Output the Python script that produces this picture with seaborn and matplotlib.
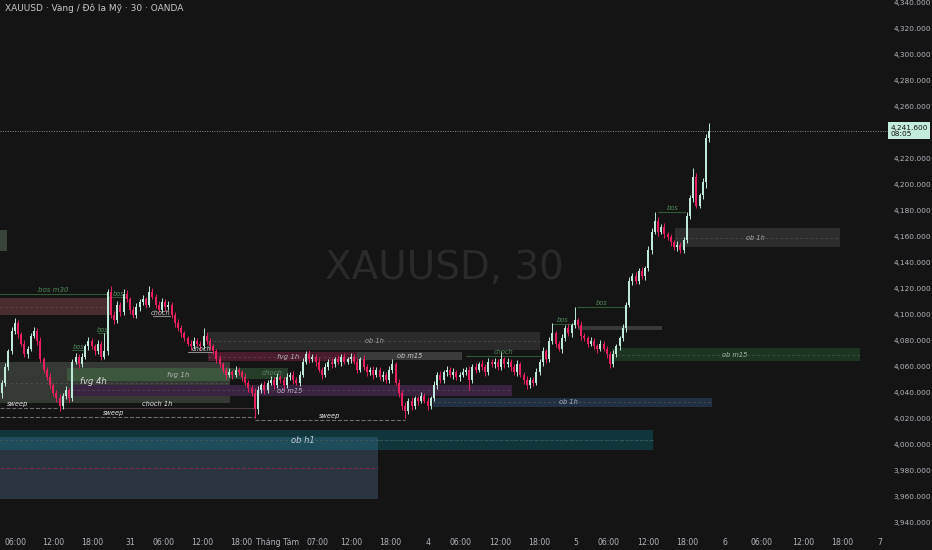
import numpy as np
import pandas as pd
import matplotlib
matplotlib.use("Agg")
import matplotlib.pyplot as plt
import matplotlib.transforms as mtransforms
import seaborn as sns

# XAUUSD 30m candles, closes (open = previous close)
first_open = 4040
closes = [
    4048, 4060, 4072, 4088, 4094, 4085, 4078, 4070, 4074, 4084,
    4088, 4080, 4066, 4058, 4052, 4046, 4040, 4036, 4030, 4038,
    4042, 4036, 4064, 4068, 4062, 4068, 4076, 4080, 4076, 4072,
    4078, 4068, 4072, 4118, 4100, 4096, 4108, 4102, 4116, 4112,
    4104, 4100, 4106, 4110, 4112, 4108, 4118, 4114, 4108, 4104,
    4110, 4106, 4108, 4100, 4094, 4090, 4086, 4082, 4078, 4076,
    4080, 4078, 4076, 4084, 4080, 4076, 4072, 4066, 4062, 4058,
    4054, 4056, 4054, 4058, 4056, 4052, 4048, 4044, 4040, 4028,
    4042, 4046, 4042, 4048, 4050, 4046, 4052, 4050, 4046, 4052,
    4054, 4050, 4048, 4054, 4064, 4070, 4066, 4068, 4064, 4058,
    4054, 4060, 4064, 4062, 4066, 4064, 4068, 4064, 4066, 4068,
    4064, 4058, 4066, 4060, 4056, 4058, 4054, 4058, 4052, 4054,
    4050, 4058, 4062, 4048, 4040, 4030, 4026, 4034, 4030, 4036,
    4034, 4038, 4034, 4030, 4036, 4046, 4054, 4050, 4056, 4058,
    4054, 4056, 4052, 4054, 4056, 4058, 4050, 4060, 4058, 4062,
    4060, 4056, 4064, 4062, 4064, 4060, 4066, 4062, 4064, 4060,
    4056, 4062, 4054, 4050, 4046, 4050, 4048, 4056, 4064, 4072,
    4066, 4080, 4086, 4078, 4074, 4082, 4090, 4086, 4092, 4096,
    4092, 4084, 4082, 4078, 4080, 4076, 4074, 4078, 4074, 4070,
    4062, 4070, 4076, 4082, 4090, 4108, 4126, 4130, 4126, 4134,
    4130, 4136, 4150, 4164, 4172, 4164, 4168, 4162, 4160, 4156,
    4152, 4154, 4150, 4158, 4176, 4190, 4206, 4184, 4192, 4202,
    4236, 4241.6,
]
up_wick = [
    2, 3, 2, 3, 4, 2, 2, 3, 2, 2,
    3, 2, 3, 2, 2, 3, 2, 2, 3, 2,
    3, 2, 2, 3, 2, 3, 2, 3, 2, 2,
    3, 2, 14, 2, 4, 3, 3, 2, 4, 3,
    2, 3, 3, 2, 3, 2, 4, 3, 2, 3,
    3, 2, 3, 2, 2, 3, 2, 2, 2, 3,
    3, 2, 2, 6, 3, 2, 2, 2, 3, 2,
    2, 3, 2, 3, 2, 2, 3, 2, 2, 4,
    3, 2, 3, 2, 3, 2, 3, 2, 2, 3,
    2, 3, 2, 3, 3, 2, 3, 2, 2, 3,
    2, 3, 2, 3, 2, 3, 2, 3, 2, 3,
    2, 3, 2, 3, 2, 2, 3, 2, 2, 3,
    2, 3, 4, 2, 3, 2, 3, 2, 3, 2,
    2, 3, 2, 3, 2, 3, 2, 3, 2, 3,
    2, 3, 2, 2, 3, 2, 3, 2, 3, 2,
    3, 2, 3, 2, 3, 2, 6, 2, 3, 2,
    2, 3, 2, 2, 3, 2, 2, 3, 2, 3,
    2, 3, 8, 2, 2, 3, 2, 3, 2, 10,
    2, 3, 2, 2, 3, 2, 2, 3, 2, 2,
    2, 3, 2, 2, 3, 2, 3, 2, 3, 2,
    3, 2, 3, 3, 7, 3, 2, 3, 2, 2,
    2, 3, 2, 2, 3, 2, 7, 3, 2, 3,
    3, 6,
]
down_wick = [
    4, 3, 2, 2, 3, 3, 2, 2, 3, 2,
    2, 3, 2, 3, 2, 3, 2, 3, 4, 2,
    3, 3, 2, 2, 3, 2, 2, 3, 2, 3,
    2, 3, 2, 3, 2, 3, 2, 3, 2, 2,
    3, 2, 2, 3, 2, 3, 2, 2, 3, 2,
    2, 3, 2, 2, 3, 2, 3, 2, 2, 3,
    2, 2, 3, 2, 2, 3, 2, 3, 2, 3,
    3, 2, 3, 2, 2, 3, 2, 3, 2, 7,
    4, 2, 3, 2, 2, 3, 2, 2, 3, 2,
    2, 3, 2, 3, 2, 2, 3, 2, 3, 2,
    3, 2, 2, 3, 2, 2, 3, 2, 2, 3,
    2, 3, 2, 2, 3, 2, 3, 2, 2, 3,
    2, 2, 3, 2, 3, 3, 5, 2, 3, 2,
    3, 2, 2, 3, 2, 2, 3, 2, 2, 3,
    2, 3, 2, 3, 2, 2, 8, 2, 3, 2,
    2, 3, 2, 2, 3, 2, 2, 3, 2, 3,
    2, 3, 2, 3, 3, 2, 3, 2, 2, 3,
    3, 2, 2, 3, 2, 3, 2, 2, 3, 2,
    2, 3, 2, 3, 2, 2, 3, 2, 2, 3,
    3, 2, 2, 3, 2, 3, 2, 3, 2, 2,
    2, 3, 2, 3, 2, 3, 2, 3, 2, 3,
    2, 3, 2, 2, 3, 2, 3, 2, 2, 3,
    4, 3,
]
last_price = 4241.6

# time axis (candle index of each label)
tick_idx = [4.1, 16.1, 28.1, 40, 50.6, 62.5, 74.7, 86, 98.75, 109, 121.3, 133.1,
            143.4, 155.6, 167.8, 179.4, 189.4, 201.8, 214.1, 226, 237.5, 250.3, 262.5, 274.4]
tick_labels = ["06:00", "12:00", "18:00", "31", "06:00", "12:00", "18:00", "Tháng Tám",
               "07:00", "12:00", "18:00", "4", "06:00", "12:00", "18:00", "5",
               "06:00", "12:00", "18:00", "6", "06:00", "12:00", "18:00", "7"]

# SMC zones: start idx, end idx, low, high, fill, dashed midline?
zones = [
    (-0.6, 1.6, 4149, 4165, "#38433a", False),
    (-0.6, 33.75, 4100, 4113, "#4a2d2f", True),
    (-0.6, 71.25, 4032.3, 4063.8, "#343a33", True),
    (20.3, 71.25, 4049.2, 4059.2, "#3d573f", False),
    (21.9, 159.4, 4037.7, 4046.2, "#392340", True),
    (64.4, 168.1, 4073.1, 4086.9, "#2b2b2b", True),
    (64.4, 110.9, 4064.6, 4071.5, "#4b1b2e", True),
    (110.9, 143.75, 4065.4, 4071.5, "#3b3b3b", False),
    (71.25, 89.4, 4050.8, 4059.2, "#253d29", False),
    (134.7, 221.9, 4029.2, 4036.2, "#223044", True),
    (190.6, 268.1, 4064.6, 4074.6, "#1c3520", True),
    (210.3, 261.9, 4152.3, 4166.9, "#2d2d2d", True),
    (180, 206.25, 4088.5, 4091.5, "#383838", False),
    (-0.6, 203.4, 3996.2, 4011.5, "#10363b", True),
    (-0.6, 117.5, 3958.5, 4006.2, "#2a3440", False),
    (-0.6, 117.5, 3996.2, 4006.2, "#1f4c5a", False),
]

# structure lines: start idx, end idx, price, style, colour
lines = [
    (-0.6, 33, 4116.2, "-", "#2d5a35"),
    (33, 38.5, 4113.8, "-", "#2d5a35"),
    (30, 33, 4086, "-", "#2d5a35"),
    (22, 26, 4073, "-", "#2d5a35"),
    (47.2, 52.5, 4099.2, "-", "#8a8a8a"),
    (58.1, 65.6, 4071.5, "-", "#8a8a8a"),
    (-0.6, 17.5, 4028.5, "--", "#6e6e6e"),
    (18, 79, 4028.5, "-", "#4a3a40"),
    (-0.6, 79.1, 4021.5, "--", "#6e6e6e"),
    (79.1, 126, 4019.2, "--", "#6e6e6e"),
    (145, 168.1, 4068.5, "-", "#2d5a35"),
    (172.2, 179, 4093.1, "-", "#2d5a35"),
    (179.7, 195.3, 4106.2, "-", "#2d5a35"),
    (205, 213.4, 4179.2, "-", "#2d5a35"),
    (-0.6, 117.5, 3982.3, "--", "#7a2a4a"),
    (117.5, 203.4, 4003.8, ":", "#2f6268"),
]

# labels: text, idx, price, colour, size
labels = [
    ("bos m30", 15.9, 4119.2, "#4f8a57", 5),
    ("bos", 36.3, 4116, "#4f8a57", 4.8),
    ("bos", 31.6, 4088.5, "#4f8a57", 4.8),
    ("bos", 24.1, 4075.4, "#4f8a57", 4.8),
    ("choch", 49.4, 4101.5, "#d0d0d0", 4.8),
    ("choch", 62.5, 4073.5, "#d0d0d0", 4.8),
    ("fvg 4h", 28.4, 4048.5, "#d8d8d8", 6),
    ("fvg 1h", 55, 4054.2, "#b4b4b4", 5),
    ("fvg 1h", 89.4, 4068, "#b4b4b4", 5),
    ("choch", 84.4, 4055, "#5e8a63", 5),
    ("ob m15", 90, 4041.5, "#c4b4cc", 4.8),
    ("ob 1h", 116.25, 4080, "#a0a0a0", 4.8),
    ("ob m15", 127.5, 4068.5, "#c8c8c8", 4.8),
    ("sweep", 5, 4031.5, "#e6e6e6", 4.8),
    ("choch 1h", 48.4, 4031.5, "#e6e6e6", 4.8),
    ("sweep", 35, 4024.5, "#e6e6e6", 4.8),
    ("sweep", 102.5, 4022.5, "#e6e6e6", 4.8),
    ("choch", 156.6, 4071.5, "#4f8a57", 4.8),
    ("ob 1h", 176.9, 4032.7, "#a8b0bc", 4.8),
    ("bos", 175.3, 4096, "#4f8a57", 4.8),
    ("bos", 187.5, 4109, "#4f8a57", 4.8),
    ("ob m15", 229, 4069.6, "#a8b8a8", 4.8),
    ("ob 1h", 235.6, 4159.6, "#a8a8a8", 4.8),
    ("bos", 209.7, 4182, "#4f8a57", 4.8),
    ("ob h1", 94, 4003.8, "#c0d0d4", 6),
]

bg = "#141414"
up_col = "#bfeadb"
down_col = "#e8205e"
text_col = "#b2b5be"

sns.set_theme(style="dark", rc={"axes.facecolor": bg, "figure.facecolor": bg,
                                "axes.edgecolor": bg, "grid.color": bg})
plt.rcParams["font.family"] = ["DejaVu Sans"]

df = pd.DataFrame({"close": closes, "up": up_wick, "dn": down_wick})
df["idx"] = np.arange(len(df))
df["open"] = df["close"].shift(1).fillna(first_open)
df["top"] = df[["open", "close"]].max(axis=1)
df["bot"] = df[["open", "close"]].min(axis=1)
df["high"] = df["top"] + df["up"]
df["low"] = df["bot"] - df["dn"]
df["rising"] = df["close"] >= df["open"]
colors = np.where(df["rising"], up_col, down_col)

fig = plt.figure(figsize=(9.32, 5.5), dpi=100)
ax = fig.add_axes([0, 20 / 550, 888 / 932, 530 / 550])

# zones
for x0, x1, lo, hi, col, mid in zones:
    ax.fill_between([x0, x1], lo, hi, color=col, linewidth=0, zorder=1)
    if mid:
        ax.plot([x0, x1], [(lo + hi) / 2] * 2, ls=(0, (3, 3)), color="#5c5c5c",
                lw=0.6, alpha=0.7, zorder=1.5)

for x0, x1, y, ls, col in lines:
    ax.plot([x0, x1], [y, y], ls=ls, color=col, lw=0.8, zorder=2)

# candles
ax.vlines(df["idx"], df["low"], df["high"], colors=colors, lw=0.7, zorder=3)
heights = np.maximum(df["top"] - df["bot"], 0.7)
ax.bar(df["idx"], heights, bottom=df["bot"], width=0.62, color=colors,
       linewidth=0, zorder=3.5)

for txt, x, y, col, size in labels:
    ax.text(x, y, txt, color=col, fontsize=size, style="italic",
            ha="center", va="center", zorder=5)

# last price line
ax.axhline(last_price, color="#8a8a8a", ls=(0, (1, 1.5)), lw=0.7, zorder=2)

# watermark
ax.text(0.501, 0.494, "XAUUSD, 30", transform=ax.transAxes, fontsize=28,
        color="#2a2a2a", ha="center", va="center", zorder=0.5)

ax.set_xlim(-0.625, 276.9)
ax.set_ylim(3934.6, 4342.3)

ax.set_xticks(tick_idx)
ax.set_xticklabels(tick_labels)
yt = [v for v in range(3940, 4341, 20) if v != 4240]
ax.set_yticks(yt)
ax.set_yticklabels([f"{v:,.3f}" for v in yt])
ax.yaxis.tick_right()
ax.tick_params(axis="x", length=0, pad=6, labelsize=5.6, labelcolor=text_col)
ax.tick_params(axis="y", length=0, pad=4, labelsize=5.3, labelcolor=text_col)
ax.grid(False)
for s in ax.spines.values():
    s.set_visible(False)

trans = mtransforms.blended_transform_factory(ax.transAxes, ax.transData)
ax.text(1.003, last_price, "4,241.600\n08:05", transform=trans, fontsize=5.3,
        color="#111111", ha="left", va="center", linespacing=1.1,
        bbox=dict(boxstyle="square,pad=0.3", fc="#c4ecdc", ec="none"), zorder=6)

fig.text(5 / 932, 1 - 8 / 550, "XAUUSD · Vàng / Đô la Mỹ · 30 · OANDA",
         fontsize=6.5, color="#c8c8c8", ha="left", va="center")

fig.savefig("out.png", dpi=100, facecolor=bg)
